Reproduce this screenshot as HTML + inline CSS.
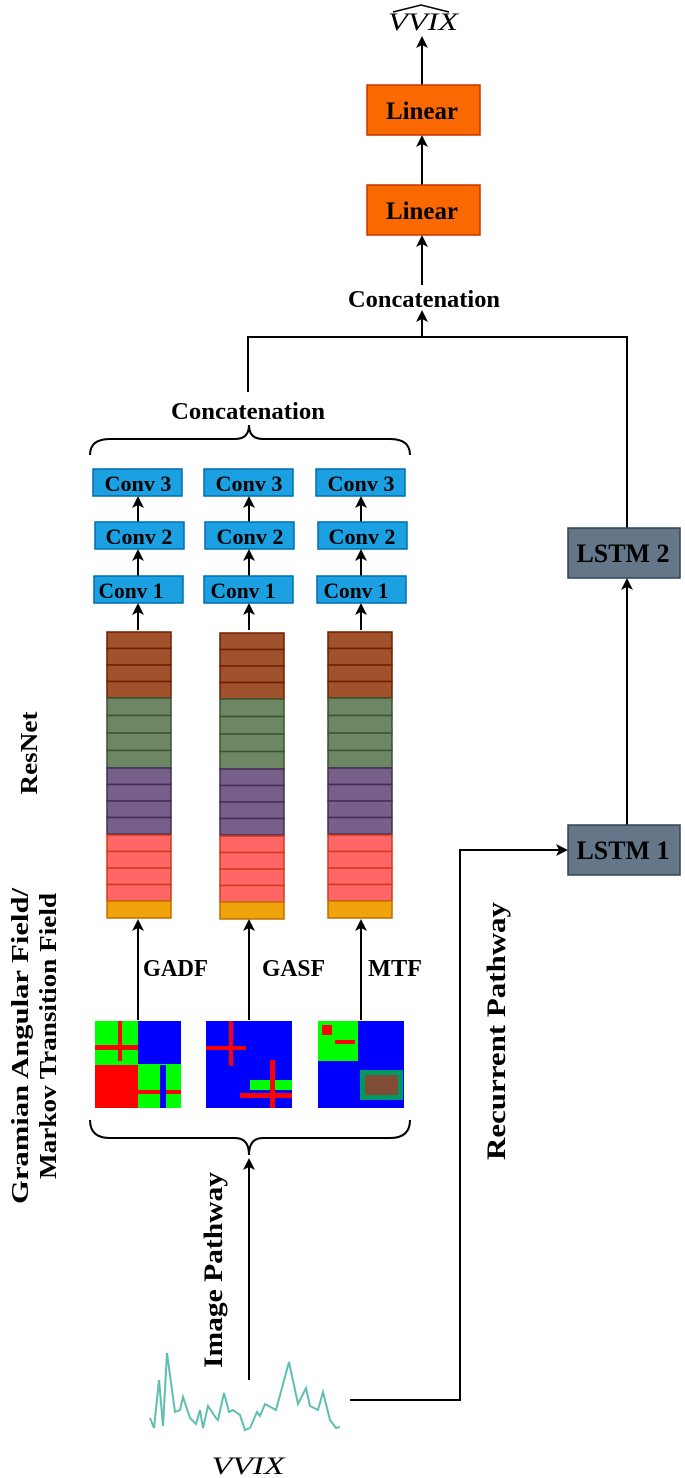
<!DOCTYPE html>
<html><head><meta charset="utf-8"><style>body{margin:0;background:#fff}svg{display:block}</style></head><body>
<svg width="685" height="1478" viewBox="0 0 685 1478" xmlns="http://www.w3.org/2000/svg" font-family="Liberation Serif, serif" font-weight="bold">
<defs><marker id="a" markerWidth="12" markerHeight="12" refX="10" refY="6" orient="auto" markerUnits="userSpaceOnUse"><path d="M0,0 L12,6 L0,12 L3,6 z" fill="#000"/></marker></defs>
<g stroke="#000" stroke-width="2" fill="none">
<line x1="422" y1="85" x2="422" y2="38" marker-end="url(#a)"/>
<line x1="422" y1="185" x2="422" y2="137" marker-end="url(#a)"/>
<line x1="422" y1="285" x2="422" y2="237" marker-end="url(#a)"/>
<line x1="422" y1="337" x2="422" y2="312" marker-end="url(#a)"/>
<polyline points="248,392 248,337 627,337 627,528"/>
<line x1="627" y1="825" x2="627" y2="580" marker-end="url(#a)"/>
<polyline points="350,1400 460,1400 460,850 566,850" marker-end="url(#a)"/>
<line x1="249" y1="1380" x2="249" y2="1160" marker-end="url(#a)"/>
<path d="M90,1120 Q90,1138 110,1138 L235,1138 Q249,1138 249,1155 Q249,1138 263,1138 L390,1138 Q410,1138 410,1120"/>
<path d="M90,455 Q90,439 110,439 L235,439 Q249,439 249,425 Q249,439 263,439 L390,439 Q410,439 410,455"/>
<line x1="138" y1="1020" x2="138" y2="921" marker-end="url(#a)"/>
<line x1="249" y1="1020" x2="249" y2="921" marker-end="url(#a)"/>
<line x1="361" y1="1020" x2="361" y2="921" marker-end="url(#a)"/>
<line x1="138" y1="630" x2="138" y2="605" marker-end="url(#a)"/>
<line x1="249" y1="630" x2="249" y2="605" marker-end="url(#a)"/>
<line x1="361" y1="630" x2="361" y2="605" marker-end="url(#a)"/>
<line x1="138" y1="576" x2="138" y2="551" marker-end="url(#a)"/>
<line x1="249" y1="576" x2="249" y2="551" marker-end="url(#a)"/>
<line x1="361" y1="576" x2="361" y2="551" marker-end="url(#a)"/>
<line x1="138" y1="522" x2="138" y2="498" marker-end="url(#a)"/>
<line x1="249" y1="522" x2="249" y2="498" marker-end="url(#a)"/>
<line x1="361" y1="522" x2="361" y2="498" marker-end="url(#a)"/>
</g>
<text x="423" y="30" font-size="25" font-style="italic" font-weight="normal" text-anchor="middle" textLength="70" lengthAdjust="spacingAndGlyphs">VVIX</text>
<path d="M393,12 L421,5 L449,12" stroke="#000" stroke-width="1.5" fill="none"/>
<g stroke="#C73500" stroke-width="1.5" fill="#FA6800">
<rect x="367" y="85" width="113" height="50"/><rect x="367" y="185" width="113" height="50"/></g>
<g font-size="25" text-anchor="middle">
<text x="422" y="119" textLength="72" lengthAdjust="spacingAndGlyphs">Linear</text>
<text x="422" y="219" textLength="72" lengthAdjust="spacingAndGlyphs">Linear</text>
<text x="424" y="307" font-size="24" textLength="152" lengthAdjust="spacingAndGlyphs">Concatenation</text>
<text x="248" y="419" font-size="24" textLength="154" lengthAdjust="spacingAndGlyphs">Concatenation</text></g>
<g stroke="#314354" stroke-width="1.5" fill="#647687"><rect x="568" y="528" width="112" height="50"/><rect x="568" y="825" width="112" height="50"/></g>
<g font-size="26" text-anchor="middle" fill="#000">
<text x="623" y="562" textLength="93" lengthAdjust="spacingAndGlyphs">LSTM 2</text>
<text x="623" y="859" textLength="93" lengthAdjust="spacingAndGlyphs">LSTM 1</text></g>
<g stroke="#006EAF" stroke-width="1.5" fill="#1BA1E2">
<rect x="93" y="469" width="89" height="27"/><rect x="204" y="469" width="89" height="27"/><rect x="316" y="469" width="89" height="27"/>
<rect x="95" y="522" width="89" height="27"/><rect x="205" y="522" width="89" height="27"/><rect x="318" y="522" width="89" height="27"/>
<rect x="94" y="576" width="89" height="27"/><rect x="204" y="576" width="89" height="27"/><rect x="317" y="576" width="89" height="27"/>
</g>
<g font-size="22" text-anchor="middle">
<text x="138" y="491" textLength="67" lengthAdjust="spacingAndGlyphs">Conv 3</text><text x="249" y="491" textLength="67" lengthAdjust="spacingAndGlyphs">Conv 3</text><text x="361" y="491" textLength="67" lengthAdjust="spacingAndGlyphs">Conv 3</text>
<text x="139" y="544" textLength="67" lengthAdjust="spacingAndGlyphs">Conv 2</text><text x="250" y="544" textLength="67" lengthAdjust="spacingAndGlyphs">Conv 2</text><text x="362" y="544" textLength="67" lengthAdjust="spacingAndGlyphs">Conv 2</text>
<text x="131" y="598" textLength="65" lengthAdjust="spacingAndGlyphs">Conv 1</text><text x="243" y="598" textLength="65" lengthAdjust="spacingAndGlyphs">Conv 1</text><text x="356" y="598" textLength="65" lengthAdjust="spacingAndGlyphs">Conv 1</text>
</g>
<g id="st" stroke-width="1.5">
<g fill="#A0522D" stroke="#6D1F00"><rect x="107" y="632" width="64" height="16.5"/><rect x="107" y="648.5" width="64" height="16.5"/><rect x="107" y="665" width="64" height="16.5"/><rect x="107" y="681.5" width="64" height="16.5"/></g>
<g fill="#6D8764" stroke="#3A5431"><rect x="107" y="698" width="64" height="17.5"/><rect x="107" y="715.5" width="64" height="17.5"/><rect x="107" y="733" width="64" height="17.5"/><rect x="107" y="750.5" width="64" height="17.5"/></g>
<g fill="#76608A" stroke="#432D57"><rect x="107" y="768" width="64" height="16.5"/><rect x="107" y="784.5" width="64" height="16.5"/><rect x="107" y="801" width="64" height="16.5"/><rect x="107" y="817.5" width="64" height="16.5"/></g>
<g fill="#FF6666" stroke="#D03A1A"><rect x="107" y="835" width="64" height="16.5"/><rect x="107" y="851.5" width="64" height="16.5"/><rect x="107" y="868" width="64" height="16.5"/><rect x="107" y="884.5" width="64" height="16.5"/></g>
<rect x="107" y="901" width="64" height="17" fill="#F0A30A" stroke="#BD7000"/>
</g>
<use href="#st" x="113" y="1"/><use href="#st" x="221" y="0"/>
<g font-size="24"><text x="143" y="976" textLength="65" lengthAdjust="spacingAndGlyphs">GADF</text><text x="262" y="976" textLength="63" lengthAdjust="spacingAndGlyphs">GASF</text><text x="368" y="976" textLength="54" lengthAdjust="spacingAndGlyphs">MTF</text></g>
<!-- images -->
<rect x="95" y="1021" width="86" height="87" fill="#00FF00"/>
<rect x="138" y="1021" width="43" height="43" fill="#0000FF"/><rect x="95" y="1065" width="43" height="43" fill="#FF0000"/>
<rect x="95" y="1045" width="43" height="5" fill="#FF0000"/><rect x="118" y="1021" width="4" height="40" fill="#FF0000"/>
<rect x="138" y="1090" width="43" height="4" fill="#FF0000"/><rect x="160" y="1065" width="6" height="43" fill="#0000FF"/>
<rect x="206" y="1021" width="86" height="87" fill="#0000FF"/>
<rect x="206" y="1046" width="40" height="4" fill="#FF0000"/><rect x="229" y="1021" width="4" height="45" fill="#FF0000"/>
<rect x="250" y="1080" width="42" height="10" fill="#00FF00"/><rect x="240" y="1093" width="52" height="5" fill="#FF0000"/><rect x="270" y="1060" width="5" height="48" fill="#FF0000"/>
<rect x="318" y="1021" width="86" height="87" fill="#0000FF"/>
<rect x="318" y="1021" width="40" height="40" fill="#00FF00"/><rect x="322" y="1025" width="10" height="10" fill="#FF0000"/><rect x="335" y="1040" width="20" height="4" fill="#FF0000"/>
<rect x="360" y="1070" width="43" height="30" fill="#00FF00" opacity="0.6"/><rect x="365" y="1075" width="33" height="20" fill="#FF0000" opacity="0.5"/>
<polyline fill="none" stroke="#5FBFAF" stroke-width="2" points="150,1418 154,1428 159,1380 163,1426 167,1353 175,1412 180,1410 183,1397 190,1418 196,1424 200,1410 203,1428 208,1406 216,1418 218,1420 224,1393 229,1412 233,1410 240,1415 245,1430 250,1428 257,1412 260,1416 265,1404 276,1410 289,1362 298,1404 306,1388 310,1406 318,1410 323,1392 330,1420 336,1428 340,1427"/>
<text x="248" y="1474" font-size="25" font-style="italic" font-weight="normal" text-anchor="middle" textLength="73" lengthAdjust="spacingAndGlyphs">VVIX</text>
<g font-size="24">
<text transform="translate(37,753) rotate(-90)" text-anchor="middle" textLength="83" lengthAdjust="spacingAndGlyphs">ResNet</text>
<text transform="translate(28,1046) rotate(-90)" text-anchor="middle" textLength="316" lengthAdjust="spacingAndGlyphs">Gramian Angular Field/</text>
<text transform="translate(56,1036) rotate(-90)" text-anchor="middle" textLength="286" lengthAdjust="spacingAndGlyphs">Markov Transition Field</text>
<text transform="translate(222,1270) rotate(-90)" text-anchor="middle" font-size="26" textLength="196" lengthAdjust="spacingAndGlyphs">Image Pathway</text>
<text transform="translate(505,1031) rotate(-90)" text-anchor="middle" font-size="26" textLength="258" lengthAdjust="spacingAndGlyphs">Recurrent Pathway</text>
</g>
</svg>
</body></html>
